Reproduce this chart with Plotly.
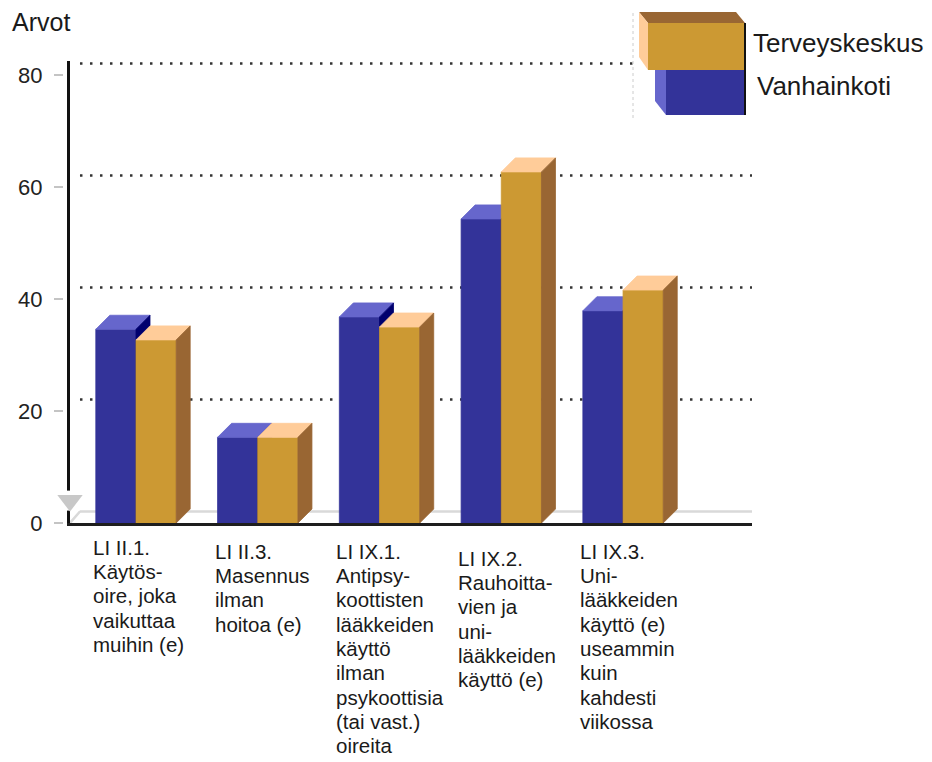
import plotly.graph_objects as go

# ---- data ---------------------------------------------------------------
categories = [
    ["LI II.1.", "Käytös-", "oire, joka", "vaikuttaa", "muihin (e)"],
    ["LI II.3.", "Masennus", "ilman", "hoitoa (e)"],
    ["LI IX.1.", "Antipsy-", "koottisten", "lääkkeiden", "käyttö", "ilman",
     "psykoottisia", "(tai vast.)", "oireita"],
    ["LI IX.2.", "Rauhoitta-", "vien ja", "uni-", "lääkkeiden", "käyttö (e)"],
    ["LI IX.3.", "Uni-", "lääkkeiden", "käyttö (e)", "useammin", "kuin",
     "kahdesti", "viikossa"],
]
vanhainkoti = [34.6, 15.3, 36.8, 54.3, 37.9]
terveyskeskus = [32.7, 15.3, 35.0, 62.7, 41.6]
y_ticks = [0, 20, 40, 60, 80]
y_title = "Arvot"
name_t = "Terveyskeskus"
name_v = "Vanhainkoti"

# ---- geometry / style ---------------------------------------------------
W, H = 932, 762
FONT = "Liberation Sans, Arial, sans-serif"


def fx(px):
    return px / W


def fy(py):
    return 1 - py / H


X_RANGE = [-0.542, 5.059]
Y_RANGE = [0, 82.5]
BAR_W = 0.33          # width of one bar front, in category units
DEPTH_X = 0.115       # 3-D extrusion of the bars
DEPTH_Y = 2.5
BACK_X = 0.082        # offset of the back wall (grid / floor)
BACK_Y = 2.05

COLORS = {
    "v": {"front": "#333399", "top": "#6666cc", "side": "#00006e"},
    "t": {"front": "#cc9933", "top": "#ffcc99", "side": "#996633"},
}


def bar_faces(values, x_off):
    front = ([], [])
    top = ([], [])
    side = ([], [])
    for i, v in enumerate(values):
        x0 = i + x_off
        x1 = x0 + BAR_W
        front[0].extend([x0, x1, x1, x0, x0, None])
        front[1].extend([0, 0, v, v, 0, None])
        top[0].extend([x0, x1, x1 + DEPTH_X, x0 + DEPTH_X, x0, None])
        top[1].extend([v, v, v + DEPTH_Y, v + DEPTH_Y, v, None])
        side[0].extend([x1, x1 + DEPTH_X, x1 + DEPTH_X, x1, x1, None])
        side[1].extend([0, DEPTH_Y, v + DEPTH_Y, v, 0, None])
    return {"front": front, "top": top, "side": side}


fig = go.Figure()

# back-wall dotted grid lines
gx, gy = [], []
for v in y_ticks[1:]:
    gx.extend([X_RANGE[0] + BACK_X, X_RANGE[1], None])
    gy.extend([v + BACK_Y, v + BACK_Y, None])
fig.add_trace(go.Scatter(
    x=gx, y=gy, mode="lines", hoverinfo="skip", showlegend=False,
    line=dict(color="#333333", width=2.5, dash="2.5px,7.5px"),
))

# floor edge
fig.add_trace(go.Scatter(
    x=[X_RANGE[0], X_RANGE[0] + BACK_X, X_RANGE[1]],
    y=[0, BACK_Y, BACK_Y],
    mode="lines", hoverinfo="skip", showlegend=False,
    line=dict(color="#d9d9d9", width=2.5),
))

# 3-D bars: Vanhainkoti left of each category, Terveyskeskus right
for key, values, x_off, name in (("v", vanhainkoti, -BAR_W, name_v),
                                 ("t", terveyskeskus, 0.0, name_t)):
    faces = bar_faces(values, x_off)
    for face in ("front", "top", "side"):
        xs, ys = faces[face]
        col = COLORS[key][face]
        fig.add_trace(go.Scatter(
            x=xs, y=ys, mode="lines", fill="toself", fillcolor=col,
            line=dict(color=col, width=0.8), name=name,
            hoverinfo="skip", showlegend=False,
        ))

# axis break marker at the foot of the value axis
fig.add_trace(go.Scatter(
    x=[X_RANGE[0]], y=[4.0], yaxis="y2", mode="markers", cliponaxis=False,
    marker=dict(symbol="square", size=20, color="white"),
    hoverinfo="skip", showlegend=False,
))
fig.add_trace(go.Scatter(
    x=[X_RANGE[0]], y=[4.0], yaxis="y2", mode="markers", cliponaxis=False,
    marker=dict(symbol="triangle-down", size=22, color="#c8c8c8"),
    hoverinfo="skip", showlegend=False,
))

# ---- legend drawn in the top-right corner -------------------------------
def path(points):
    return "M " + " L ".join(f"{fx(px):.5f},{fy(py):.5f}" for px, py in points) + " Z"


shapes = [
    dict(type="rect", xref="paper", yref="paper", x0=fx(633), x1=fx(932),
         y0=fy(120), y1=fy(0), fillcolor="white", line=dict(width=0),
         layer="above"),
    dict(type="line", xref="paper", yref="paper", x0=fx(633), x1=fx(633),
         y0=fy(118), y1=fy(10), line=dict(color="#cccccc", width=1, dash="dot"),
         layer="above"),
    # Vanhainkoti box
    dict(type="path", xref="paper", yref="paper",
         path=path([(655, 57), (666, 70), (666, 115), (655, 101)]),
         fillcolor=COLORS["v"]["top"], line=dict(width=0), layer="above"),
    dict(type="rect", xref="paper", yref="paper", x0=fx(666), x1=fx(745),
         y0=fy(115), y1=fy(70), fillcolor=COLORS["v"]["front"],
         line=dict(width=0), layer="above"),
    # Terveyskeskus box
    dict(type="path", xref="paper", yref="paper",
         path=path([(639, 12), (736, 12), (745, 23), (648, 23)]),
         fillcolor=COLORS["t"]["side"], line=dict(width=0), layer="above"),
    dict(type="path", xref="paper", yref="paper",
         path=path([(639, 12), (648, 23), (648, 70), (639, 57)]),
         fillcolor=COLORS["t"]["top"], line=dict(width=0), layer="above"),
    dict(type="rect", xref="paper", yref="paper", x0=fx(648), x1=fx(745),
         y0=fy(70), y1=fy(23), fillcolor=COLORS["t"]["front"],
         line=dict(width=0), layer="above"),
    dict(type="line", xref="paper", yref="paper", x0=fx(745), x1=fx(745),
         y0=fy(115), y1=fy(23), line=dict(color="#111111", width=2),
         layer="above"),
]

annotations = [
    dict(text=y_title, xref="paper", yref="paper", x=fx(10), y=fy(21.5),
         xanchor="left", yanchor="middle", showarrow=False,
         font=dict(family=FONT, size=25, color="#1a1a1a")),
    dict(text=name_t, xref="paper", yref="paper", x=fx(751), y=fy(43),
         xanchor="left", yanchor="middle", showarrow=False,
         font=dict(family=FONT, size=26, color="#1a1a1a")),
    dict(text=name_v, xref="paper", yref="paper", x=fx(755), y=fy(86.5),
         xanchor="left", yanchor="middle", showarrow=False,
         font=dict(family=FONT, size=26, color="#1a1a1a")),
]

# category labels, left aligned under each bar pair
LABEL_TOP_PX = [540, 544, 544, 551, 544]
LINE_PITCH = 24.3
for i, lines in enumerate(categories):
    for j, line in enumerate(lines):
        annotations.append(dict(
            text=line, xref="x", yref="paper", x=i - 0.37,
            y=fy(LABEL_TOP_PX[i] + 7.2 + j * LINE_PITCH),
            xanchor="left", yanchor="middle", showarrow=False,
            font=dict(family=FONT, size=20.5, color="#1a1a1a"),
        ))

fig.update_layout(
    template="none",
    width=W, height=H,
    margin=dict(l=0, r=0, t=0, b=0),
    paper_bgcolor="white", plot_bgcolor="white",
    showlegend=False,
    xaxis=dict(
        domain=[fx(70), fx(752)], range=X_RANGE, automargin=False,
        showgrid=False, zeroline=False, showticklabels=False, ticks="",
        showline=True, linecolor="#1e1e1e", linewidth=3,
    ),
    yaxis=dict(
        domain=[fy(523), fy(61)], range=Y_RANGE, automargin=False,
        showgrid=False, zeroline=False, showticklabels=False, ticks="",
        showline=True, linecolor="#111111", linewidth=3, layer="below traces",
    ),
    yaxis2=dict(
        overlaying="y", anchor="free", position=fx(63), range=Y_RANGE,
        automargin=False, showgrid=False, zeroline=False, showline=False,
        tickvals=y_ticks, ticktext=[str(v) for v in y_ticks],
        ticks="outside", ticklen=9, tickwidth=2, tickcolor="#c4c4c4",
        ticklabelstandoff=7,
        tickfont=dict(family=FONT, size=22, color="#222222"),
    ),
    shapes=shapes,
    annotations=annotations,
)

fig.write_html("out.html")
